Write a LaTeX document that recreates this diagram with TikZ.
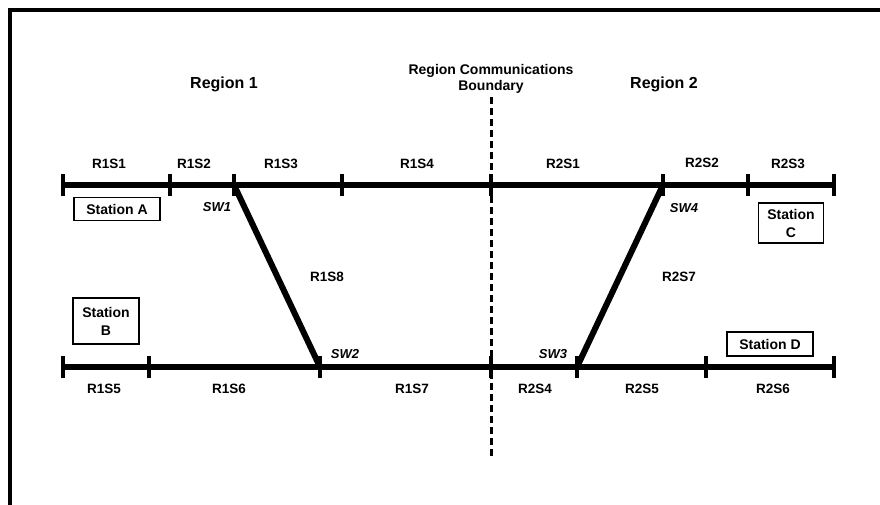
\documentclass[tikz,border=0pt]{standalone}
\usepackage{fontspec}
\setmainfont{Liberation Sans}
\tikzset{
  track/.style={line width=6pt},
  marker/.style={line width=4pt},
  seglabel/.style={font=\bfseries\fontsize{13.5}{15}\selectfont},
  swlabel/.style={font=\bfseries\itshape\fontsize{13}{15}\selectfont},
  regionlabel/.style={font=\bfseries\fontsize{16}{18}\selectfont},
  stationbox/.style={draw, line width=1.2pt, align=center, inner sep=0pt,
    font=\bfseries\fontsize{14}{18}\selectfont}
}
\begin{document}
\begin{tikzpicture}[x=1pt, y=-1pt]
    \useasboundingbox (0,0) rectangle (880,505);

    % Frame (top and left edges)
    \draw[line width=4pt] (10,505) -- (10,10) -- (880,10);

    % Junction points of the upper track
    \foreach \name/\xpos in {ua/63, ub/170, uc/234, ud/342, ue/491, uf/663, ug/748, uh/834}
      \coordinate (\name) at (\xpos,185);
    % Junction points of the lower track
    \foreach \name/\xpos in {la/63, lb/149, lc/320, ld/491, le/577, lf/706, lg/834}
      \coordinate (\name) at (\xpos,367);

    % Region communications boundary
    \coordinate (btop) at (491,97);
    \coordinate (bbot) at (491,458);
    \draw[line width=3pt, dash pattern=on 7pt off 4pt] (btop) -- (bbot);

    % Tracks
    \draw[track] (ua) -- (uh);
    \draw[track] (la) -- (lg);

    % Crossovers
    \draw[track] (uc) -- (lc);
    \draw[track] (uf) -- (le);

    % Section markers
    \foreach \p in {ua, ub, uc, ud, ue, uf, ug, uh, la, lb, lc, ld, le, lf, lg}
      \draw[marker] ([yshift=-11pt]\p) -- ([yshift=11pt]\p);

    % Section labels
    \node[seglabel] (r1s1) at (109,164) {R1S1};
    \node[seglabel] (r1s2) at (194,164) {R1S2};
    \node[seglabel] (r1s3) at (281,164) {R1S3};
    \node[seglabel] (r1s4) at (417,164) {R1S4};
    \node[seglabel] (r2s1) at (563,164) {R2S1};
    \node[seglabel] (r2s2) at (702,163) {R2S2};
    \node[seglabel] (r2s3) at (788,164) {R2S3};
    \node[seglabel] (r1s5) at (104,389) {R1S5};
    \node[seglabel] (r1s6) at (229,389) {R1S6};
    \node[seglabel] (r1s7) at (412,389) {R1S7};
    \node[seglabel] (r2s4) at (535,389) {R2S4};
    \node[seglabel] (r2s5) at (642,389) {R2S5};
    \node[seglabel] (r2s6) at (773,389) {R2S6};
    \node[seglabel] (r1s8) at (327,277) {R1S8};
    \node[seglabel] (r2s7) at (679,277) {R2S7};

    % Switches
    \node[swlabel] (sw1) at (217,207) {SW1};
    \node[swlabel] (sw2) at (345,354) {SW2};
    \node[swlabel] (sw3) at (553,354) {SW3};
    \node[swlabel] (sw4) at (684,208) {SW4};

    % Regions
    \node[regionlabel] (reg1) at (224,84) {Region 1};
    \node[regionlabel] (reg2) at (664,84) {Region 2};
    \node[font=\bfseries\fontsize{14}{16.5}\selectfont, align=center, anchor=south]
      (bound) at (btop) {Region Communications\\Boundary};

    % Stations
    \node[stationbox, minimum width=86pt, minimum height=23pt] (sta) at (117,209) {Station A};
    \node[stationbox, minimum width=66pt, minimum height=46pt] (stb) at (106,321) {Station\\B};
    \node[stationbox, minimum width=65pt, minimum height=40pt] (stc) at (791,223) {Station\\C};
    \node[stationbox, minimum width=86pt, minimum height=24pt] (std) at (770,344) {Station D};
  \end{tikzpicture}
\end{document}
